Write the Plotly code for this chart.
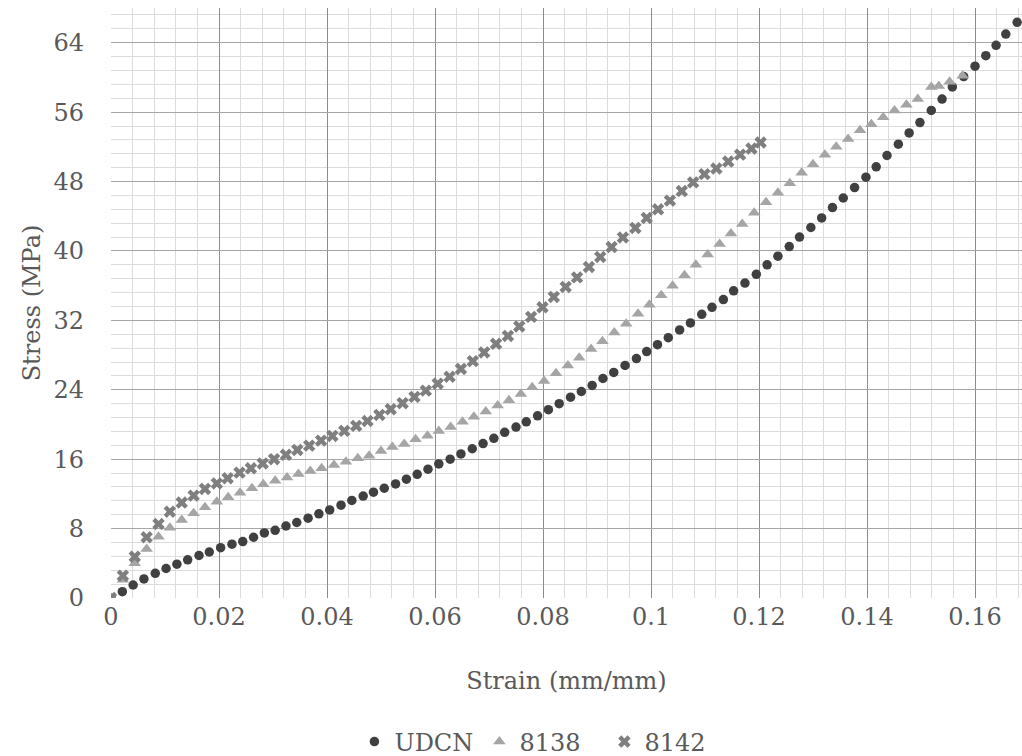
import plotly.graph_objects as go

# ---- data ----
udcn_strain = [0, 0.0021, 0.0041, 0.0061, 0.0082, 0.0102, 0.0122, 0.0142, 0.0163, 0.0182,
               0.0203, 0.0224, 0.0244, 0.0264, 0.0284, 0.0304, 0.0324, 0.0344, 0.0365, 0.0385,
               0.0405, 0.0426, 0.0446, 0.0467, 0.0486, 0.0506, 0.0527, 0.0547, 0.0567, 0.0587,
               0.0607, 0.0628, 0.0648, 0.0669, 0.0689, 0.0709, 0.0729, 0.075, 0.0769, 0.079,
               0.081, 0.083, 0.0851, 0.0871, 0.0891, 0.0911, 0.0931, 0.0952, 0.0973, 0.0992,
               0.1012, 0.1032, 0.1053, 0.1073, 0.1094, 0.1113, 0.1134, 0.1153, 0.1174, 0.1195,
               0.1215, 0.1235, 0.1256, 0.1275, 0.1296, 0.1316, 0.1336, 0.1356, 0.1377, 0.1398,
               0.1417, 0.1437, 0.1458, 0.1478, 0.1498, 0.1519, 0.1539, 0.1558, 0.1579, 0.16,
               0.162, 0.1639, 0.1657, 0.1678]
udcn_stress = [0, 0.73, 1.5, 2.2, 2.85, 3.4, 3.9, 4.4, 4.9, 5.3,
               5.8, 6.2, 6.5, 7.0, 7.5, 7.8, 8.3, 8.7, 9.2, 9.7,
               10.15, 10.7, 11.25, 11.75, 12.2, 12.65, 13.15, 13.7, 14.25, 14.85,
               15.45, 16.0, 16.6, 17.2, 17.8, 18.4, 19.1, 19.7, 20.3, 21.0,
               21.7, 22.4, 23.15, 23.8, 24.5, 25.3, 26.0, 26.8, 27.6, 28.4,
               29.2, 30.0, 30.9, 31.7, 32.7, 33.5, 34.4, 35.4, 36.3, 37.3,
               38.4, 39.4, 40.5, 41.6, 42.7, 43.8, 45.0, 46.1, 47.3, 48.5,
               49.7, 51.0, 52.3, 53.6, 54.8, 56.2, 57.5, 58.9, 60.1, 61.3,
               62.5, 63.7, 65.0, 66.35]

s8138_strain = [0, 0.0022, 0.0044, 0.0066, 0.0088, 0.0109, 0.0131, 0.0153, 0.0174, 0.0196,
                0.0217, 0.0239, 0.0261, 0.0282, 0.0304, 0.0326, 0.0347, 0.0369, 0.039, 0.0413,
                0.0435, 0.0457, 0.0478, 0.05, 0.0521, 0.0543, 0.0564, 0.0586, 0.0607, 0.0629,
                0.0651, 0.0672, 0.0694, 0.0716, 0.0737, 0.0759, 0.078, 0.0802, 0.0824, 0.0846,
                0.0867, 0.0889, 0.091, 0.0932, 0.0954, 0.0976, 0.0997, 0.1019, 0.104, 0.1062,
                0.1083, 0.1105, 0.1127, 0.1148, 0.1169, 0.1191, 0.1213, 0.1235, 0.1257, 0.1279,
                0.13, 0.1322, 0.1343, 0.1365, 0.1387, 0.1408, 0.143, 0.1451, 0.1473, 0.1494,
                0.1519, 0.1533, 0.1553, 0.1577]
s8138_stress = [0, 2.1, 4.0, 5.65, 7.07, 8.1, 9.0, 9.77, 10.46, 11.1,
                11.6, 12.14, 12.65, 13.1, 13.5, 13.9, 14.3, 14.65, 14.96, 15.34,
                15.7, 16.1, 16.4, 16.95, 17.4, 17.76, 18.3, 18.7, 19.26, 19.7,
                20.3, 20.9, 21.5, 22.2, 22.8, 23.5, 24.3, 25.0, 25.9, 26.8,
                27.7, 28.7, 29.6, 30.6, 31.6, 32.75, 33.8, 34.9, 36.0, 37.2,
                38.4, 39.6, 40.8, 42.0, 43.1, 44.4, 45.6, 46.7, 47.8, 49.0,
                50.0, 51.1, 52.0, 52.9, 53.9, 54.6, 55.4, 56.2, 56.85, 57.5,
                58.9, 59.0, 59.5, 60.2]

s8142_strain = [0, 0.0022, 0.0044, 0.0066, 0.0088, 0.0109, 0.0131, 0.0153, 0.0174, 0.0196,
                0.0216, 0.0238, 0.0259, 0.0281, 0.0302, 0.0324, 0.0345, 0.0367, 0.0389, 0.041,
                0.0432, 0.0454, 0.0475, 0.0497, 0.0518, 0.054, 0.0562, 0.0583, 0.0605, 0.0627,
                0.0648, 0.067, 0.0691, 0.0713, 0.0735, 0.0756, 0.0778, 0.0799, 0.082, 0.0842,
                0.0863, 0.0885, 0.0906, 0.0927, 0.0948, 0.0971, 0.0992, 0.1013, 0.1035, 0.1057,
                0.1078, 0.1099, 0.1121, 0.1143, 0.1165, 0.1186, 0.1203]
s8142_stress = [0, 2.57, 4.76, 7.0, 8.53, 9.95, 11.0, 11.8, 12.57, 13.2,
                13.8, 14.45, 14.95, 15.5, 16.0, 16.5, 17.06, 17.56, 18.14, 18.68,
                19.26, 19.84, 20.4, 21.1, 21.76, 22.45, 23.18, 23.9, 24.7, 25.5,
                26.4, 27.3, 28.3, 29.3, 30.2, 31.3, 32.4, 33.5, 34.7, 35.85,
                36.95, 38.15, 39.3, 40.45, 41.55, 42.65, 43.8, 44.8, 45.8, 46.9,
                47.9, 48.85, 49.5, 50.3, 51.1, 51.8, 52.5]

x_tickvals = [0, 0.02, 0.04, 0.06, 0.08, 0.1, 0.12, 0.14, 0.16]
x_ticktext = ["0", "0.02", "0.04", "0.06", "0.08", "0.1", "0.12", "0.14", "0.16"]
y_tickvals = [0, 8, 16, 24, 32, 40, 48, 56, 64]
y_ticktext = ["0", "8", "16", "24", "32", "40", "48", "56", "64"]

FONT = "DejaVu Serif"
TXT = "#595959"
FS = 24

fig = go.Figure()
fig.add_trace(go.Scatter(x=udcn_strain, y=udcn_stress, mode="markers", name="UDCN",
                         marker=dict(symbol="circle", size=9.5, color="#404040")))
fig.add_trace(go.Scatter(x=s8138_strain, y=s8138_stress, mode="markers", name="8138",
                         marker=dict(symbol="triangle-up", size=11, color="#a5a5a5")))
fig.add_trace(go.Scatter(x=s8142_strain, y=s8142_stress, mode="markers", name="8142",
                         marker=dict(symbol="x", size=11, color="#7f7f7f")))

fig.update_layout(
    width=1022, height=756,
    margin=dict(l=111, r=0, t=8, b=158, autoexpand=False),
    paper_bgcolor="white", plot_bgcolor="white",
    font=dict(family=FONT, size=FS, color=TXT),
    showlegend=True,
    legend=dict(orientation="h", x=0.473, xanchor="center", y=-0.244, yanchor="middle",
                font=dict(family=FONT, size=FS, color=TXT), itemwidth=30,
                entrywidth=80, entrywidthmode="pixels"),
    xaxis=dict(range=[0, 0.1687], tickvals=x_tickvals, ticktext=x_ticktext,
               showgrid=True, gridcolor="#8c8c8c", gridwidth=1,
               minor=dict(dtick=0.004, tick0=0, showgrid=True, gridcolor="#dcdcdc", gridwidth=1),
               zeroline=False, showline=False, ticks="", ticklabelstandoff=2, automargin=False,
               title=dict(text="Strain (mm/mm)", font=dict(family=FONT, size=FS, color=TXT), standoff=42),
               tickfont=dict(family=FONT, size=FS, color=TXT)),
    yaxis=dict(range=[0, 68], tickvals=y_tickvals, ticktext=y_ticktext,
               showgrid=True, gridcolor="#a6a6a6", gridwidth=1,
               minor=dict(dtick=1.6, tick0=0, showgrid=True, gridcolor="#dcdcdc", gridwidth=1),
               zeroline=False, showline=False, ticks="", ticklabelstandoff=26, automargin=False,
               title=dict(text="Stress (MPa)", font=dict(family=FONT, size=FS, color=TXT), standoff=6),
               tickfont=dict(family=FONT, size=FS, color=TXT)),
)

fig.write_html("out.html")
